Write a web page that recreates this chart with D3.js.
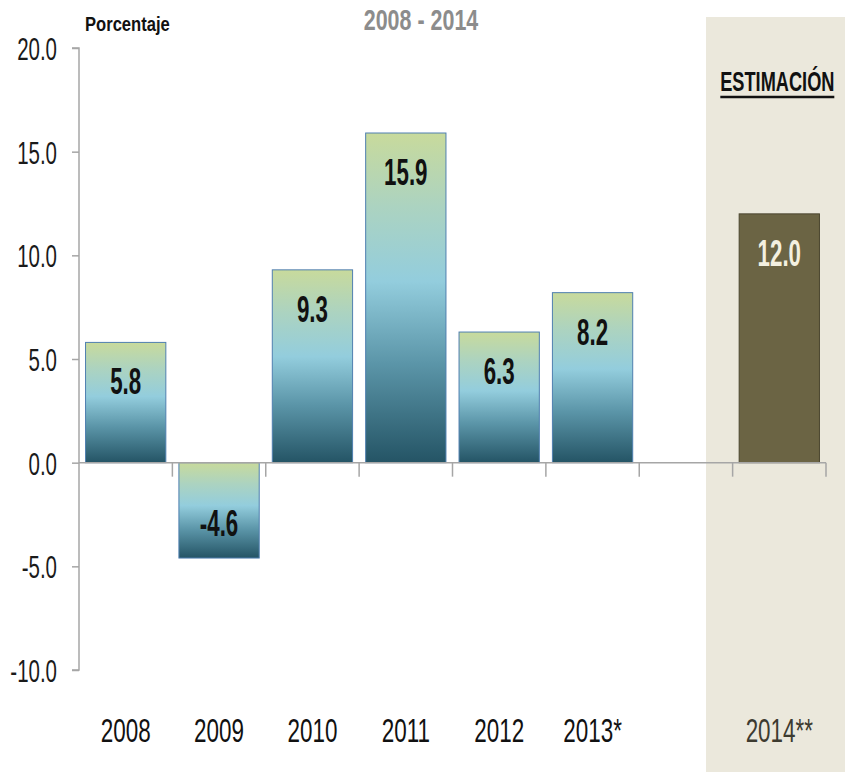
<!DOCTYPE html>
<html>
<head>
<meta charset="utf-8">
<script src="https://cdn.jsdelivr.net/npm/d3@7"></script>
<style>
  html, body { margin: 0; padding: 0; background: #ffffff; }
  svg { display: block; }
  text { font-family: "Liberation Sans", Arial, sans-serif; }
</style>
</head>
<body>
<svg id="chart" width="845" height="772"></svg>
<script>
// Annual growth, percent
const categories = ["2008", "2009", "2010", "2011", "2012", "2013*", "", "2014**"];
const values = [5.8, -4.6, 9.3, 15.9, 6.3, 8.2, null, 12.0];
const estimated = [false, false, false, false, false, false, false, true];
const yTicks = [-10, -5, 0, 5, 10, 15, 20];
const titleText = "2008 - 2014";
const unitText = "Porcentaje";
const estimateText = "ESTIMACIÓN";

const svg = d3.select("#chart");
const W = 845, H = 772;
const plotLeft = 79, plotRight = 826, plotTop = 48, plotBottom = 670;

// keys must be unique for the band scale
const keys = categories.map((c, i) => i);
const x = d3.scaleBand().domain(keys).range([plotLeft, plotRight]).paddingInner(0.14).paddingOuter(0.07);
const y = d3.scaleLinear().domain([-10, 20]).range([plotBottom, plotTop]);
const fmt = v => d3.format(".1f")(v).replace("−", "-");

const defs = svg.append("defs");
const grad = defs.append("linearGradient")
  .attr("id", "barGrad").attr("x1", 0).attr("y1", 0).attr("x2", 0).attr("y2", 1);
[[0, "#c8da9c"], [0.22, "#acd3c0"], [0.45, "#93cddd"], [0.7, "#5b95a8"], [1, "#245465"]]
  .forEach(([o, c]) => grad.append("stop").attr("offset", o).attr("stop-color", c));

// shaded estimate column
const estIdx = estimated.indexOf(true);
const bandX = plotLeft + x.step() * (estIdx - 0.285);
svg.append("rect")
  .attr("x", bandX).attr("y", 17)
  .attr("width", W - bandX).attr("height", H - 17)
  .attr("fill", "#ebe8dc");

// bars
const bars = values.map((v, i) => ({ v, i })).filter(d => d.v !== null);
svg.selectAll("rect.bar").data(bars).join("rect")
  .attr("class", "bar")
  .attr("x", d => x(d.i))
  .attr("width", x.bandwidth())
  .attr("y", d => y(Math.max(0, d.v)))
  .attr("height", d => Math.abs(y(d.v) - y(0)))
  .attr("fill", d => estimated[d.i] ? "#6b6444" : "url(#barGrad)")
  .attr("stroke", d => estimated[d.i] ? "#4b462f" : "#4f7fb0")
  .attr("stroke-width", 1);

// y axis
const yAxis = d3.axisLeft(y).tickValues(yTicks).tickSize(7).tickFormat(fmt);
const gy = svg.append("g").attr("transform", `translate(${plotLeft},0)`).call(yAxis);
gy.select(".domain").attr("stroke", "#a6a6a6").attr("stroke-width", 1.5).attr("d", `M-7,${y(20)}H0V${y(-10)}H-7`);
gy.selectAll(".tick line").attr("stroke", "#a6a6a6").attr("stroke-width", 1.5);
gy.selectAll(".tick text").remove();
gy.selectAll(".tick").append("text")
  .attr("transform", `translate(-22,0) scale(0.64,1)`)
  .attr("text-anchor", "end").attr("dy", "0.36em")
  .attr("font-size", 32).attr("fill", "#1a1a1a")
  .text(fmt);

// x axis line at zero with boundary ticks
const gx = svg.append("g");
gx.append("line").attr("x1", plotLeft).attr("x2", plotRight).attr("y1", y(0)).attr("y2", y(0))
  .attr("stroke", "#a6a6a6").attr("stroke-width", 1.5);
gx.selectAll("line.tk").data(d3.range(1, categories.length + 1)).join("line")
  .attr("class", "tk")
  .attr("x1", k => plotLeft + k * x.step()).attr("x2", k => plotLeft + k * x.step())
  .attr("y1", y(0)).attr("y2", y(0) + 14)
  .attr("stroke", "#a6a6a6").attr("stroke-width", 1.5);

// category labels
svg.selectAll("text.cat").data(keys).join("text")
  .attr("class", "cat")
  .attr("transform", i => `translate(${x(i) + x.bandwidth() / 2},742) scale(0.66,1)`)
  .attr("text-anchor", "middle").attr("font-size", 34)
  .attr("fill", i => estimated[i] ? "#3d3b30" : "#111111")
  .text(i => categories[i]);

// value labels
svg.selectAll("text.val").data(bars).join("text")
  .attr("class", "val")
  .attr("transform", d => {
    const cy = d.v >= 0 ? y(d.v) + 39 : y(d.v) - 35;
    return `translate(${x(d.i) + x.bandwidth() / 2},${cy}) scale(0.62,1)`;
  })
  .attr("text-anchor", "middle").attr("dy", "0.36em")
  .attr("font-size", 36).attr("font-weight", "bold")
  .attr("fill", d => estimated[d.i] ? "#f3f0e0" : "#111111")
  .text(d => fmt(d.v));

// unit label
svg.append("text")
  .attr("transform", `translate(85,31) scale(0.79,1)`)
  .attr("font-size", 21).attr("font-weight", "bold").attr("fill", "#111")
  .text(unitText);

// title
svg.append("text")
  .attr("transform", `translate(421,30) scale(0.74,1)`)
  .attr("text-anchor", "middle").attr("font-size", 29).attr("font-weight", "bold")
  .attr("fill", "#8c8c8c")
  .text(titleText);

// estimate heading, underlined
const estCx = x(estIdx) + x.bandwidth() / 2 - 2;
svg.append("text")
  .attr("transform", `translate(${estCx},91) scale(0.65,1)`)
  .attr("text-anchor", "middle").attr("font-size", 28).attr("font-weight", "bold")
  .attr("fill", "#111")
  .text(estimateText);
svg.append("line")
  .attr("x1", estCx - 57).attr("x2", estCx + 57).attr("y1", 97).attr("y2", 97)
  .attr("stroke", "#111").attr("stroke-width", 2.5);
</script>
</body>
</html>
